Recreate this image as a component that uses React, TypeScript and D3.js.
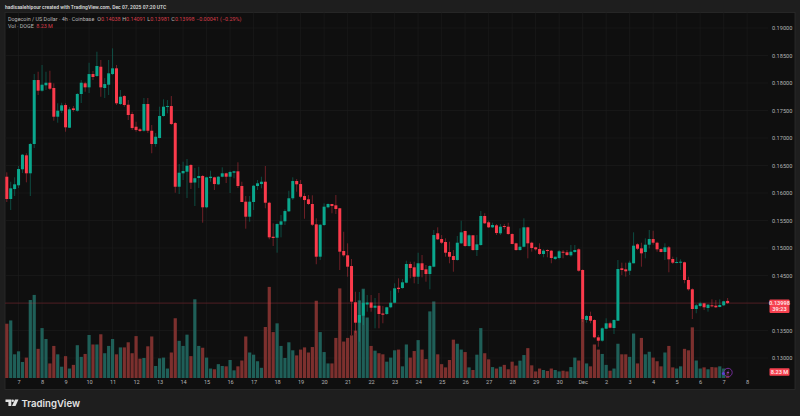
import { useEffect, useRef } from 'react';
import * as d3 from 'd3';

// DOGE/USD 4h candles
const opens = [0.16296,0.15891,0.16072,0.16140,0.16431,0.16685,0.16358,0.16891,0.18054,0.17860,0.17958,0.18005,0.17909,0.17387,0.17496,0.17600,0.17187,0.17539,0.17496,0.17800,0.17994,0.17921,0.18163,0.18127,0.18296,0.17909,0.17969,0.18163,0.18267,0.17618,0.17763,0.17605,0.17436,0.17205,0.17158,0.17132,0.17618,0.17132,0.16891,0.17000,0.17400,0.17563,0.17581,0.17272,0.16114,0.16358,0.16387,0.16509,0.16191,0.16272,0.16309,0.15740,0.16272,0.16285,0.16158,0.16296,0.16358,0.16296,0.16369,0.16394,0.16127,0.15842,0.15569,0.15836,0.16127,0.16163,0.16205,0.15823,0.15205,0.15187,0.15423,0.15485,0.15667,0.15904,0.16218,0.16163,0.15945,0.15885,0.15800,0.15431,0.14842,0.15418,0.15740,0.15800,0.15776,0.15722,0.14945,0.14867,0.14672,0.14013,0.13642,0.13769,0.13973,0.14009,0.13914,0.13951,0.13809,0.13800,0.13922,0.14005,0.14278,0.14272,0.14369,0.14709,0.14649,0.14478,0.14722,0.14612,0.14527,0.14660,0.15267,0.15163,0.15109,0.14927,0.14854,0.14782,0.15085,0.15309,0.15036,0.15231,0.14963,0.15054,0.15582,0.15467,0.15376,0.15412,0.15267,0.15400,0.15387,0.15254,0.15085,0.14963,0.15023,0.15376,0.15096,0.15012,0.14982,0.14891,0.14963,0.14951,0.14800,0.14818,0.14932,0.14922,0.14867,0.14927,0.14976,0.14600,0.13691,0.13764,0.13691,0.13376,0.13315,0.13533,0.13631,0.13545,0.13678,0.14631,0.14612,0.14587,0.14722,0.15067,0.14994,0.14927,0.15060,0.15163,0.15096,0.14982,0.14927,0.15012,0.14800,0.14733,0.14733,0.14740,0.14418,0.14249,0.13891,0.13945,0.13994,0.13909,0.13958,0.13951,0.13927,0.13958,0.14038];
const highs = [0.16376,0.16205,0.16285,0.16491,0.16709,0.16722,0.16909,0.18163,0.18205,0.18327,0.18205,0.18223,0.17994,0.17631,0.17641,0.17631,0.17563,0.17581,0.17818,0.18054,0.18023,0.18368,0.18218,0.18569,0.18418,0.18090,0.18418,0.18630,0.18327,0.17872,0.17781,0.17690,0.17478,0.17296,0.17181,0.17727,0.17727,0.17236,0.17091,0.17569,0.17703,0.17690,0.17763,0.17291,0.16527,0.16569,0.16618,0.16527,0.16454,0.16478,0.16327,0.16296,0.16405,0.16296,0.16309,0.16467,0.16369,0.16405,0.16405,0.16558,0.16205,0.15945,0.15945,0.16145,0.16236,0.16296,0.16491,0.15842,0.15449,0.15449,0.15600,0.15703,0.16041,0.16285,0.16254,0.16236,0.15994,0.15963,0.15958,0.15540,0.15431,0.15812,0.15812,0.15800,0.15963,0.15727,0.15296,0.15085,0.14800,0.14205,0.14200,0.14236,0.14145,0.14145,0.14091,0.14182,0.13945,0.13933,0.14224,0.14358,0.14449,0.14436,0.14769,0.14751,0.14751,0.14914,0.14873,0.14691,0.14691,0.15327,0.15376,0.15236,0.15176,0.15114,0.14963,0.15218,0.15496,0.15314,0.15249,0.15236,0.15236,0.15672,0.15631,0.15496,0.15460,0.15436,0.15436,0.15436,0.15460,0.15267,0.15096,0.15358,0.15540,0.15387,0.15114,0.15023,0.15085,0.14976,0.14976,0.14963,0.14842,0.14963,0.14963,0.14963,0.15054,0.15054,0.14994,0.14612,0.13782,0.13842,0.13703,0.13418,0.13558,0.13722,0.13660,0.13703,0.14782,0.14733,0.14733,0.14769,0.15285,0.15085,0.15096,0.15176,0.15327,0.15314,0.15114,0.14994,0.15085,0.15036,0.14842,0.14831,0.14794,0.14751,0.14478,0.14267,0.13982,0.14024,0.14005,0.13982,0.14067,0.14054,0.14067,0.14042,0.14091];
const lows = [0.15836,0.15691,0.15945,0.16091,0.16363,0.16194,0.15945,0.16818,0.17781,0.17841,0.17872,0.17872,0.17314,0.17278,0.17454,0.17114,0.17181,0.17478,0.17478,0.17636,0.17841,0.17818,0.18054,0.18109,0.17750,0.17727,0.17781,0.18145,0.17600,0.17600,0.17569,0.17327,0.17145,0.17114,0.17109,0.17114,0.17091,0.16722,0.16841,0.16994,0.17387,0.17449,0.17236,0.16005,0.15982,0.16236,0.15909,0.16072,0.15763,0.16091,0.15460,0.15722,0.16205,0.16054,0.16145,0.16285,0.16182,0.16000,0.16267,0.16091,0.15836,0.15351,0.15478,0.15691,0.16054,0.16085,0.15722,0.15158,0.15036,0.14914,0.15194,0.15418,0.15654,0.15872,0.16023,0.15904,0.15532,0.15781,0.15400,0.14704,0.14782,0.15400,0.15722,0.15631,0.15618,0.14600,0.14842,0.14478,0.13418,0.13455,0.13296,0.13600,0.13842,0.13842,0.13540,0.13540,0.13631,0.13782,0.13904,0.13995,0.14187,0.14260,0.14358,0.14449,0.14358,0.14345,0.14467,0.14387,0.14249,0.14649,0.15145,0.15073,0.14842,0.14722,0.14569,0.14769,0.15073,0.15023,0.15023,0.14951,0.14854,0.15041,0.15436,0.15363,0.15363,0.15236,0.15236,0.15340,0.15242,0.15067,0.14951,0.14951,0.15012,0.14812,0.14933,0.14951,0.14873,0.14831,0.14831,0.14722,0.14782,0.14794,0.14812,0.14854,0.14842,0.14914,0.14569,0.13654,0.13642,0.13631,0.13358,0.13205,0.13296,0.13522,0.13540,0.13436,0.13678,0.14509,0.14478,0.14509,0.14722,0.14963,0.14660,0.14812,0.14994,0.15060,0.14933,0.14922,0.14782,0.14558,0.14709,0.14722,0.14600,0.14358,0.14224,0.13709,0.13813,0.13922,0.13873,0.13842,0.13922,0.13909,0.13922,0.13945,0.13981];
const closes = [0.15891,0.16085,0.16158,0.16436,0.16696,0.16358,0.16891,0.18054,0.17860,0.17969,0.18005,0.17896,0.17387,0.17496,0.17594,0.17194,0.17521,0.17509,0.17800,0.18005,0.17921,0.18163,0.18109,0.18309,0.17921,0.17981,0.18176,0.18267,0.17631,0.17750,0.17600,0.17418,0.17181,0.17145,0.17127,0.17618,0.17132,0.16891,0.17023,0.17400,0.17569,0.17581,0.17254,0.16114,0.16369,0.16400,0.16496,0.16187,0.16269,0.16309,0.15740,0.16285,0.16296,0.16163,0.16296,0.16358,0.16296,0.16382,0.16394,0.16127,0.15836,0.15569,0.15842,0.16132,0.16176,0.16205,0.15823,0.15194,0.15182,0.15436,0.15485,0.15672,0.15904,0.16218,0.16158,0.15932,0.15872,0.15800,0.15423,0.14842,0.15423,0.15751,0.15800,0.15763,0.15709,0.14933,0.14867,0.14660,0.14024,0.13642,0.13782,0.14005,0.14009,0.13914,0.13951,0.13800,0.13787,0.13922,0.14005,0.14267,0.14254,0.14376,0.14709,0.14636,0.14478,0.14722,0.14600,0.14527,0.14673,0.15236,0.15158,0.15096,0.14914,0.14842,0.14782,0.15096,0.15285,0.15036,0.15231,0.14963,0.15067,0.15582,0.15449,0.15376,0.15418,0.15272,0.15387,0.15387,0.15254,0.15073,0.14963,0.15023,0.15376,0.15085,0.15000,0.14976,0.14891,0.14951,0.14945,0.14818,0.14842,0.14940,0.14914,0.14873,0.14932,0.14963,0.14587,0.13709,0.13764,0.13678,0.13376,0.13315,0.13540,0.13631,0.13551,0.13691,0.14618,0.14600,0.14576,0.14733,0.15042,0.14987,0.14903,0.15060,0.15163,0.15096,0.14976,0.14927,0.15012,0.14794,0.14733,0.14745,0.14751,0.14418,0.14249,0.13891,0.13958,0.13994,0.13922,0.13969,0.13945,0.13922,0.13963,0.14031,0.13998];
// volume in millions
const volumes = [74.5,79,32.5,36.6,22,28,107,114,40,68.5,53.5,20,44,32.5,15.5,30,13,18,45,29,33,59,46,46,60,34,44,53.5,32.5,42,42,49,34,57.5,26.5,27.5,43.5,57,16.5,27,28,13,35,82,51,44,59.5,30,108,44,41.5,28,13,12,19,16.5,16,24.7,10.5,16,24,57,35,32,23,14,70,125,63,75,44,27.5,49,38,31,39,42,35,42.5,106,63,35.6,20,20,55,123,50,55,58.5,65,106.5,122.5,83,44,37.5,34,32.5,22.4,28,38,39,16,46,28,37,52,39,26,91.4,105,32.5,19,14.6,24.7,52.6,47,39,35.6,14.6,11,32,68.5,34,25.6,15,13,15.5,18,12,22.4,17,23.8,31.5,41,17.4,9,13,11,9.6,13,11,9,10,9,15,28,24,81,20,16,46,39,33,18,10,13,47,32.5,32.5,29,61,20,55,32.5,36,28,23,16,35,44,14.6,13,16,40,38,69.5,24,13,14.6,12,15,14.6,16,13,8.23];

const dayLabels = ['7','8','9','10','11','12','13','14','15','16','17','18','19','20','21','22','23','24','25','26','27','28','29','30','Dec','2','3','4','5','6','7','8'];
const gridPrices = [0.13,0.135,0.14,0.145,0.15,0.155,0.16,0.165,0.17,0.175,0.18,0.185,0.19];
// 0.14000 sits under the last price tag, so the axis does not print it
const priceLabels = [0.13,0.135,0.145,0.15,0.155,0.16,0.165,0.17,0.175,0.18,0.185,0.19];

const lastPrice = 0.13998;
const lastVolume = 8.23;
const barsPerDay = 6;
const firstDayBar = 3;

const UP = '#0aa78d';
const DOWN = '#fb3a4b';
const UP_VOL = '#1f5f58';
const DOWN_VOL = '#7c302e';
const FONT = 'Roboto, sans-serif';

export default function App() {
    const svgRef = useRef<SVGSVGElement>(null);

    useEffect(() => {
        if (!svgRef.current) return;
        const svg = d3.select(svgRef.current);
        svg.selectAll('*').remove();

        const width = 800;
        const height = 416;
        const panel = { left: 5, top: 12.5, right: 795, bottom: 389.5 };

        const x = d3.scaleLinear().domain([0, 184]).range([6.8, 727.6]);
        const y = d3.scaleLinear().domain([0.13, 0.19]).range([358, 28]);
        const yVol = d3.scaleLinear().domain([0, 125]).range([378, 286.9]);

        svg.append('rect').attr('width', width).attr('height', height).attr('fill', '#1e1e1e');
        svg.append('rect')
            .attr('x', panel.left).attr('y', panel.top)
            .attr('width', panel.right - panel.left).attr('height', panel.bottom - panel.top)
            .attr('fill', '#0f0f0f').attr('stroke', '#2b2b2b').attr('stroke-width', 0.8);

        const dayIndex = dayLabels.map((_, k) => firstDayBar + k * barsPerDay);

        // grid
        const grid = svg.append('g').attr('stroke', '#1b1b1b').attr('stroke-width', 0.7);
        grid.selectAll('.v').data(dayIndex).enter().append('line')
            .attr('x1', d => x(d)).attr('x2', d => x(d))
            .attr('y1', panel.top).attr('y2', 378);
        grid.selectAll('.h').data(gridPrices).enter().append('line')
            .attr('x1', panel.left).attr('x2', 768)
            .attr('y1', d => y(d)).attr('y2', d => y(d));

        const idx = d3.range(opens.length);
        const isUp = (i: number) => closes[i] >= opens[i];

        // volume
        svg.append('g').selectAll('rect').data(idx).enter().append('rect')
            .attr('x', i => x(i) - 1.6)
            .attr('width', 3.2)
            .attr('y', i => yVol(volumes[i]))
            .attr('height', i => yVol(0) - yVol(volumes[i]))
            .attr('fill', i => (isUp(i) ? UP_VOL : DOWN_VOL));

        // last price line
        svg.append('line')
            .attr('x1', panel.left).attr('x2', 769)
            .attr('y1', y(lastPrice)).attr('y2', y(lastPrice))
            .attr('stroke', '#f23645').attr('stroke-opacity', 0.32).attr('stroke-width', 0.8);

        // candles
        const candles = svg.append('g');
        candles.selectAll('.wick').data(idx).enter().append('line')
            .attr('x1', i => x(i)).attr('x2', i => x(i))
            .attr('y1', i => y(highs[i])).attr('y2', i => y(lows[i]))
            .attr('stroke', i => (isUp(i) ? UP : DOWN))
            .attr('stroke-opacity', 0.45)
            .attr('stroke-width', 0.9);
        candles.selectAll('.body').data(idx).enter().append('rect')
            .attr('x', i => x(i) - 1.5)
            .attr('width', 3)
            .attr('y', i => y(Math.max(opens[i], closes[i])))
            .attr('height', i => Math.max(1, Math.abs(y(opens[i]) - y(closes[i]))))
            .attr('fill', i => (isUp(i) ? UP : DOWN));

        // price axis
        const priceAxis = svg.append('g')
            .attr('transform', 'translate(772,0)')
            .call(d3.axisRight(y).tickValues(priceLabels).tickSize(0).tickPadding(0).tickFormat(d3.format('.5f') as any));
        priceAxis.select('.domain').remove();
        priceAxis.selectAll('text')
            .attr('font-family', FONT).attr('font-size', 5.6).attr('fill', '#b4b4b4');

        // time axis
        const dayName = new Map(dayIndex.map((d, k) => [d, dayLabels[k]]));
        const timeAxis = svg.append('g')
            .attr('transform', 'translate(0,380.5)')
            .call(d3.axisBottom(x).tickValues(dayIndex).tickSize(0).tickPadding(0).tickFormat(d => dayName.get(+d) as string));
        timeAxis.select('.domain').remove();
        timeAxis.selectAll('text')
            .attr('font-family', FONT).attr('font-size', 5.6).attr('fill', '#b4b4b4');

        // price + volume tags
        const tag = (top: number, h: number) =>
            svg.append('rect').attr('x', 769.5).attr('y', top).attr('width', 20).attr('height', h).attr('rx', 0.8).attr('fill', '#f6414f');
        const tagText = (py: number, label: string) =>
            svg.append('text').attr('x', 779.5).attr('y', py).attr('text-anchor', 'middle')
                .attr('font-family', FONT).attr('font-size', 5.6).attr('font-weight', 600).attr('fill', '#ffe4e6').text(label);
        tag(y(lastPrice) - 3.6, 13.4);
        tagText(y(lastPrice) + 1.8, d3.format('.5f')(lastPrice));
        tagText(y(lastPrice) + 8.2, '39:23');
        tag(yVol(lastVolume) - 3.8, 7.6);
        tagText(yVol(lastVolume) + 2, `${lastVolume} M`);

        // purple marker next to the last volume bar
        const mx = x(184) + 0.4;
        svg.append('circle').attr('cx', mx).attr('cy', 372.5).attr('r', 4.2)
            .attr('fill', '#0f0f0f').attr('fill-opacity', 0.6).attr('stroke', '#7b2fa3').attr('stroke-width', 0.9);
        svg.append('path')
            .attr('d', `M${mx + 0.9} ${369.9}L${mx - 1.3} ${373}H${mx - 0.1}L${mx - 0.9} ${375.1}L${mx + 1.3} ${372}H${mx + 0.1}Z`)
            .attr('fill', '#9a47c8');
        svg.append('circle').attr('cx', mx - 4.6).attr('cy', 373.6).attr('r', 1.5).attr('fill', '#5b3fd6');

        // header
        svg.append('text').attr('x', 5).attr('y', 8.8).attr('font-family', FONT)
            .attr('font-size', 5).attr('font-weight', 600).attr('fill', '#d6d6d6')
            .text('hadisaalehipour created with TradingView.com, Dec 07, 2025 07:20 UTC');

        const legend = svg.append('text').attr('x', 8).attr('y', 20.6).attr('font-family', FONT).attr('font-size', 5.4);
        const span = (t: string, c: string) => legend.append('tspan').attr('fill', c).text(t);
        span('Dogecoin / US Dollar · 4h · Coinbase', '#b8b8b8');
        const ohlc: [string, number][] = [['O', opens[184]], ['H', highs[184]], ['L', lows[184]], ['C', closes[184]]];
        ohlc.forEach(([k, v], n) => {
            const label = legend.append('tspan').attr('fill', '#b8b8b8').attr('dx', n === 0 ? 3 : 1.6).text(k);
            label.attr('data-key', k);
            span(d3.format('.5f')(v), '#d93c49');
        });
        legend.append('tspan').attr('fill', '#d93c49').attr('dx', 1.6).text('−0.00041 (−0.29%)');

        const vol = svg.append('text').attr('x', 8).attr('y', 27.8).attr('font-family', FONT).attr('font-size', 5.4);
        vol.append('tspan').attr('fill', '#b8b8b8').text('Vol · DOGE');
        vol.append('tspan').attr('fill', '#d93c49').attr('dx', 2.5).text(`${lastVolume} M`);

        // TradingView logo
        const logo = svg.append('g').attr('transform', 'translate(5.5,399.5)').attr('fill', '#e4e4e4');
        logo.append('path').attr('d', 'M0 0H5.8V6.4H2.9V2.6H0Z');
        logo.append('circle').attr('cx', 7.2).attr('cy', 1.3).attr('r', 1.3);
        logo.append('path').attr('d', 'M9.5 0H13L10 6.4H6.5Z');
        svg.append('text').attr('x', 21.5).attr('y', 406.5).attr('font-family', 'Inter, Roboto, sans-serif')
            .attr('font-size', 9.6).attr('font-weight', 600).attr('fill', '#e4e4e4').text('TradingView');
    }, []);

    return <svg ref={svgRef} width={800} height={416} style={{ position: 'absolute', left: 0, top: 0 }} />;
}
